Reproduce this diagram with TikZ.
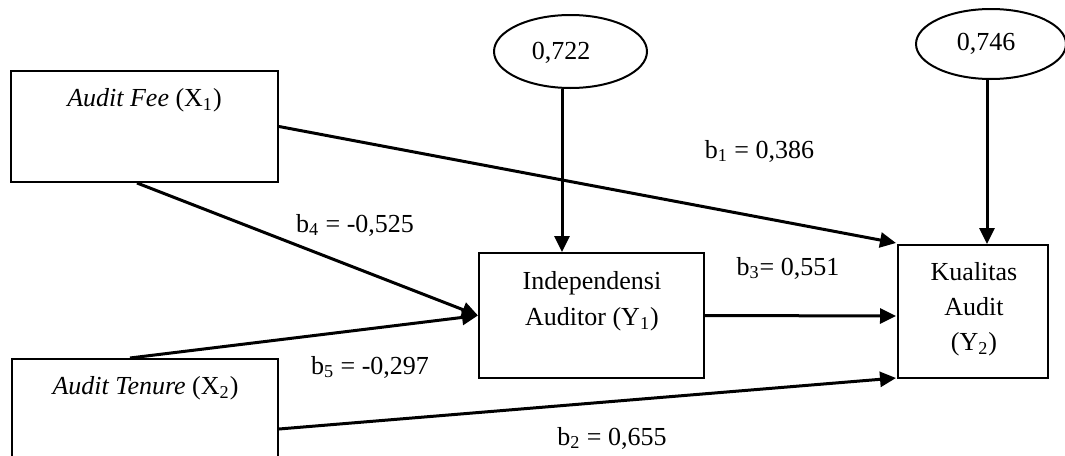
\documentclass[tikz,border=0pt]{standalone}
\usepackage{fontspec}
\setmainfont{Liberation Serif}
\usetikzlibrary{shapes.geometric,arrows.meta,calc}
\tikzset{
  box/.style={draw,line width=1pt,inner sep=0pt},
  oval/.style={draw,ellipse,line width=1pt,inner sep=0pt},
  conn/.style={line width=1.5pt,-{Triangle[length=8pt,width=7.5pt]}},
  lbl/.style={inner sep=0pt,font=\fontsize{13}{15}\selectfont},
}
\begin{document}
\begin{tikzpicture}[x=0.5pt,y=-0.5pt]
\useasboundingbox (0,0) rectangle (1065,455);
\clip (0,0) rectangle (1065,455);
% boxes
\node[box,minimum width=133.5pt,minimum height=55.5pt] (fee) at (144.5,126.5) {};
\node[box,minimum width=133pt,minimum height=55.5pt] (ten) at (145,414.5) {};
\node[box,minimum width=112.5pt,minimum height=62.5pt] (ind) at (591.5,315.5) {};
\node[box,minimum width=75pt,minimum height=66.5pt] (kua) at (973,311.5) {};
\node[oval,minimum width=76.5pt,minimum height=36.5pt] (e1) at (570.5,51.5) {};
\node[oval,minimum width=75pt,minimum height=35pt] (e2) at (991,44) {};
% texts
\node[lbl] (tfee) at (144.5,100) {\textit{Audit Fee} (X\textsubscript{1})};
\node[lbl] (tten) at (145.5,388) {\textit{Audit Tenure} (X\textsubscript{2})};
\node[lbl,align=center,font=\fontsize{13}{18}\selectfont] (tind) at (592,301) {Independensi\\Auditor (Y\textsubscript{1})};
\node[lbl,align=center,font=\fontsize{13}{17.5}\selectfont] (tkua) at (974,309) {Kualitas\\Audit\\(Y\textsubscript{2})};
\node[lbl] (te1) at (561,53) {0,722};
\node[lbl] (te2) at (986,44) {0,746};
% labels
\node[lbl] (b1) at (759.5,151) {b\textsubscript{1} = 0,386};
\node[lbl] (b4) at (355,225) {b\textsubscript{4} = -0,525};
\node[lbl] (b3) at (788,268) {b\textsubscript{3}= 0,551};
\node[lbl] (b5) at (370,367) {b\textsubscript{5} = -0,297};
\node[lbl] (b2) at (612,438) {b\textsubscript{2} = 0,655};
% connectors
\coordinate (k2) at ($(kua.north)+(14,0)$);
\coordinate (i1) at ($(ind.north)+(-29.5,0)$);
\draw[conn] (fee.east) -- ($(kua.north west)+(-1,-1)$);
\draw[conn] ($(fee.south)+(-7.5,0)$) -- (ind.west);
\draw[conn] ($(ten.north)+(-15,0)$) -- (ind.west);
\draw[conn] (ind.east) -- ($(kua.west)+(-1,4.5)$);
\draw[conn] ($(ten.east)+(0,14.5)$) -- ($(kua.south west)+(-1,-1)$);
\draw[conn] (i1 |- e1.south) -- (i1);
\draw[conn] (k2 |- e2.south) -- (k2);
\end{tikzpicture}
\end{document}
